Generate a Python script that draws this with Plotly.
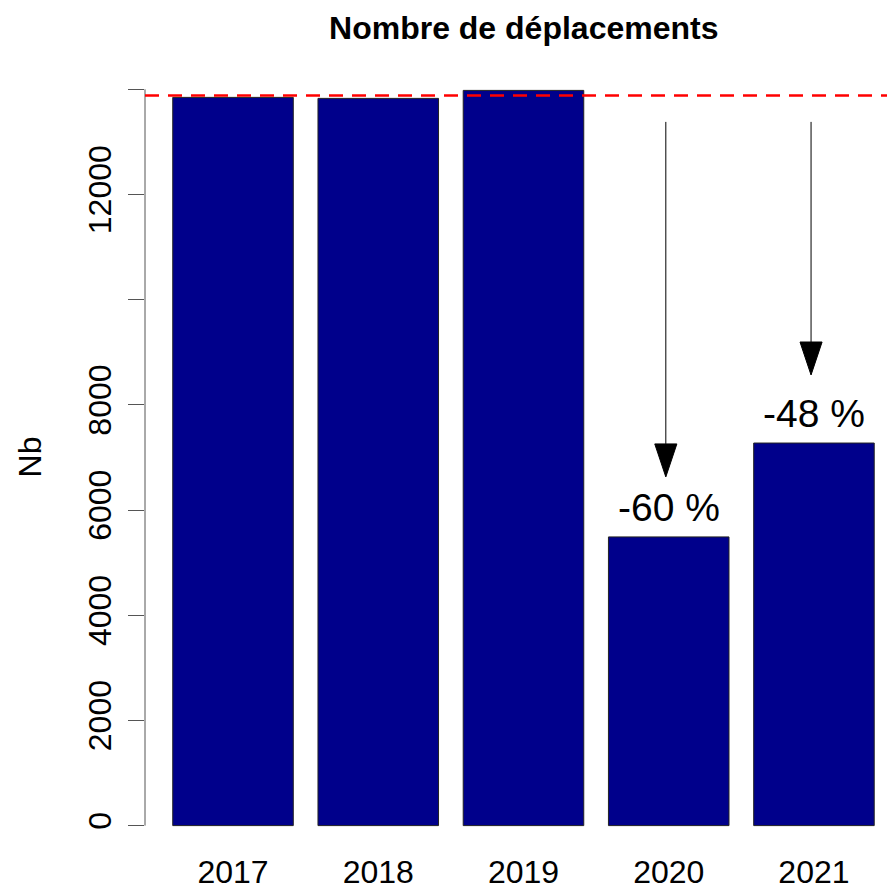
import plotly.graph_objects as go

# ---- data ----
years = ["2017", "2018", "2019", "2020", "2021"]
deplacements = [13846, 13827, 13979, 5489, 7274]
ytick_vals = [0, 2000, 4000, 6000, 8000, 10000, 12000, 14000]
ytick_text = ["0", "2000", "4000", "6000", "8000", "", "12000", ""]
title_text = "Nombre de déplacements"
ylabel_text = "Nb"
arrow_years = ["2020", "2021"]
arrow_top = 13380
arrow_tip_offset = [1141, 1294]
label_offset = 560

ref = sum(deplacements[:3]) / 3.0
xpos = list(range(len(years)))

fig = go.Figure()
fig.add_trace(go.Bar(
    x=xpos, y=deplacements, width=0.83,
    marker=dict(color="#00008B", line=dict(color="#222222", width=1)),
    hoverinfo="skip", showlegend=False,
))

shapes = []
annotations = []
# y axis line (only spans the ticks)
shapes.append(dict(type="line", xref="paper", yref="y", x0=0, x1=0,
                   y0=ytick_vals[0], y1=ytick_vals[-1],
                   line=dict(color="#555555", width=1)))
# reference dashed line
shapes.append(dict(type="line", xref="paper", yref="y", x0=0, x1=1,
                   y0=ref, y1=ref,
                   line=dict(color="#FF0000", width=2.5, dash="14px,9px")))

head_len = 627
head_half = 0.076
for i, yr in enumerate(arrow_years):
    k = years.index(yr)
    v = deplacements[k]
    xc = xpos[k] - 0.02
    tip = v + arrow_tip_offset[i]
    shapes.append(dict(type="line", xref="x", yref="y", x0=xc, x1=xc,
                       y0=arrow_top, y1=tip + head_len,
                       line=dict(color="black", width=1)))
    path = f"M {xc-head_half},{tip+head_len} L {xc+head_half},{tip+head_len} L {xc},{tip} Z"
    shapes.append(dict(type="path", xref="x", yref="y", path=path,
                       fillcolor="black", line=dict(color="black", width=1)))
    pct = round((v / ref - 1) * 100)
    annotations.append(dict(x=xpos[k], y=v + label_offset, xref="x", yref="y",
                            text=f"{pct} %", showarrow=False,
                            xanchor="center", yanchor="middle",
                            font=dict(size=39, color="black", family="Liberation Sans")))

annotations.append(dict(x=-0.153, y=0.501, xref="paper", yref="paper",
                        text=ylabel_text, textangle=-90, showarrow=False,
                        xanchor="center", yanchor="middle",
                        font=dict(size=32, color="black", family="Liberation Sans")))

fig.update_layout(
    width=887, height=880,
    margin=dict(l=137, r=0, t=53, b=33, autoexpand=False),
    plot_bgcolor="white", paper_bgcolor="white",
    title=dict(text=f"<b>{title_text}</b>", xref="paper", x=0.505, xanchor="center",
               yref="container", y=0.977, yanchor="middle",
               font=dict(size=32, color="black", family="Liberation Sans")),
    xaxis=dict(range=[-0.606, 4.558], tickvals=xpos, ticktext=years,
               showgrid=False, zeroline=False, showline=False, ticks="",
               ticklabelstandoff=-5,
               tickfont=dict(size=32, color="black", family="Liberation Sans"),
               fixedrange=True),
    yaxis=dict(range=[-559, 14538], tickvals=ytick_vals, ticktext=ytick_text,
               showgrid=False, zeroline=False, showline=False,
               ticks="outside", ticklen=16, tickcolor="#555555", tickwidth=1,
               tickangle=-90, ticklabelstandoff=4,
               tickfont=dict(size=32, color="black", family="Liberation Sans"),
               fixedrange=True),
    shapes=shapes, annotations=annotations,
    showlegend=False,
)

fig.write_html("out.html")
